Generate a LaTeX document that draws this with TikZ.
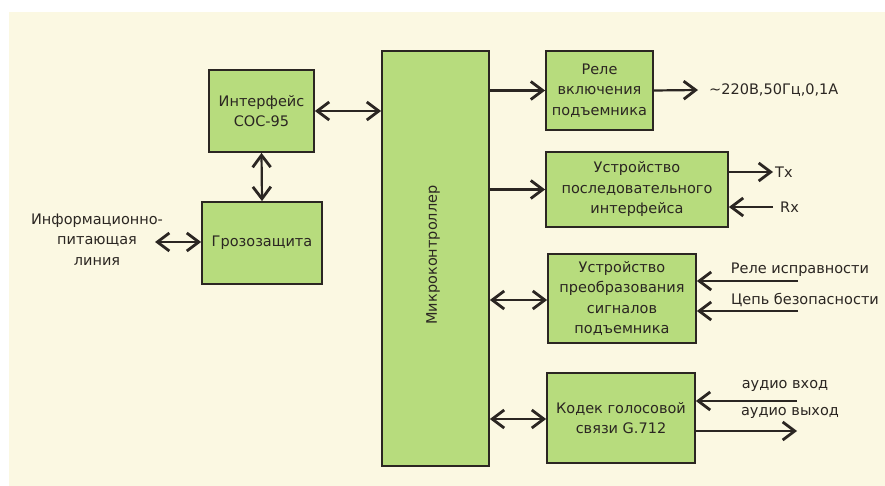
\documentclass[tikz,border=0pt]{standalone}
\usepackage{fontspec}
\setmainfont{DejaVu Sans}
\usetikzlibrary{arrows.meta}
\definecolor{cream}{HTML}{FBF8E2}
\definecolor{boxgreen}{HTML}{B7DC7D}
\definecolor{ink}{HTML}{2B2622}
\tikzset{
  blk/.style={draw=ink, line width=1.8pt, fill=boxgreen, align=center, inner sep=0pt,
    font=\fontsize{14.5}{20.5}\selectfont, text=ink},
  lbl/.style={align=center, inner sep=0pt, font=\fontsize{14.5}{20.5}\selectfont, text=ink},
  conn/.style={draw=ink, line width=2.2pt},
  one/.style={-{Straight Barb[length=12pt,width=18pt,line width=2.8pt]}},
  two/.style={{Straight Barb[length=12pt,width=18pt,line width=2.8pt]}-{Straight Barb[length=12pt,width=18pt,line width=2.8pt]}}
}
\begin{document}
\begin{tikzpicture}[x=1pt,y=-1pt]
\useasboundingbox (0,0) rectangle (885,486);
\fill[white] (0,0) rectangle (885,486);
\fill[cream] (9,12) rectangle (885,486);

\node[blk, minimum width=105pt, minimum height=82pt] (iface) at (261.5,111) {Интерфейс\\СОС-95};
\node[blk, minimum width=120pt, minimum height=82pt] (groz) at (262,243) {Грозозащита};
\node[blk, minimum width=107pt, minimum height=415pt] (mcu) at (435.5,258.5) {};
\node[lbl, rotate=90] (mcutext) at (433,255) {Микроконтроллер};
\node[blk, minimum width=107pt, minimum height=79pt] (rele) at (599.5,90.5) {Реле\\включения\\подъемника};
\node[blk, minimum width=182pt, minimum height=75pt] (serial) at (637,189.5) {Устройство\\последовательного\\интерфейса};
\node[blk, minimum width=148pt, minimum height=89pt] (conv) at (622,298.5) {Устройство\\преобразования\\сигналов\\подъемника};
\node[blk, minimum width=148pt, minimum height=90pt] (codec) at (621,418) {Кодек голосовой\\связи G.712};

% labels
\node[lbl] (info) at (97,239.5) {Информационно-\\питающая\\линия};
\coordinate (infoend) at (155,242);
\node[lbl, anchor=west] (pwr) at (709,90) {\textasciitilde220В,50Гц,0,1А};
\node[lbl, anchor=west] (tx) at (775,172) {Tx};
\node[lbl, anchor=west] (rx) at (780,207) {Rx};
\node[lbl] (relok) at (800,270) {Реле исправности};
\coordinate (relokend) at (798,281);
\node[lbl] (safe) at (805,300) {Цепь безопасности};
\coordinate (safeend) at (798,311);
\node[lbl] (ain) at (785,386) {аудио вход};
\coordinate (ainend) at (797,401);
\node[lbl] (aout) at (790,413) {аудио выход};
\coordinate (aoutend) at (797,431);
\coordinate (txend) at (773,172);
\coordinate (rxend) at (773,207);
\coordinate (pwrend) at (698,90);

% connectors
\draw[conn, two] (iface.east) -- (iface.east -| mcu.west);
\draw[conn, two] (iface.south) -- (groz.north);
\draw[conn, two] (infoend) -- (infoend -| groz.west);
\draw[conn, one] (rele.west -| mcu.east) -- (rele.west);
\draw[conn, one] (rele.east) -- (pwrend);
\draw[conn, one] (serial.west -| mcu.east) -- (serial.west);
\draw[conn, one] (txend -| serial.east) -- (txend);
\draw[conn, one] (rxend) -- (rxend -| serial.east);
\draw[conn, two] (mcu.east |- 0,300) -- (conv.west |- 0,300);
\draw[conn, one] (relokend) -- (relokend -| conv.east);
\draw[conn, one] (safeend) -- (safeend -| conv.east);
\draw[conn, two] (mcu.east |- 0,419) -- (codec.west |- 0,419);
\draw[conn, one] (ainend) -- (ainend -| codec.east);
\draw[conn, one] (aoutend -| codec.east) -- (aoutend);
\end{tikzpicture}
\end{document}
